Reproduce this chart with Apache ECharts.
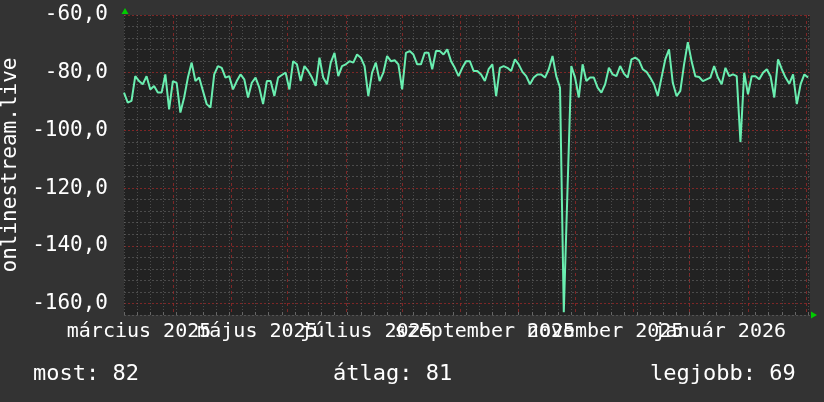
<!DOCTYPE html>
<html>
<head>
<meta charset="utf-8">
<script src="https://cdn.jsdelivr.net/npm/echarts@6/dist/echarts.min.js"></script>
<style>
  html, body { margin: 0; padding: 0; background: #333333; }
  #chart { width: 824px; height: 402px; }
</style>
</head>
<body>
<div id="chart"></div>
<script>
const DAY = 86400000;
const startTime = Date.UTC(2025, 1, 3);
const endTime = Date.UTC(2026, 1, 3);
const stepDays = 2;

// értékek 2 naponta, 2025-02-03-tól
const values = [
  -86.9, -90.4, -89.8, -81.2, -82.9, -84.0, -81.2, -85.8, -84.6, -86.9,
  -86.9, -80.6, -92.7, -82.9, -83.5, -93.8, -88.6, -81.7, -76.5, -82.9,
  -81.7, -86.3, -90.9, -92.1, -80.6, -77.7, -78.3, -81.7, -81.2, -85.8,
  -82.9, -80.6, -82.3, -88.6, -83.5, -81.7, -85.2, -90.9, -82.9, -82.9,
  -88.1, -81.7, -80.8, -80.0, -85.8, -76.0, -77.1, -82.9, -77.7, -79.4,
  -81.7, -84.6, -74.8, -81.7, -84.0, -76.5, -73.1, -81.2, -77.7, -77.1,
  -76.0, -76.5, -73.7, -74.8, -77.7, -88.1, -80.0, -76.5, -82.9, -80.0,
  -74.2, -76.0, -75.7, -77.1, -85.8, -73.1, -72.5, -73.7, -77.1, -77.1,
  -73.1, -73.1, -78.8, -72.5, -72.5, -73.7, -71.9, -76.0, -78.3, -81.2,
  -78.3, -76.0,
  -76.0, -79.4, -79.4, -80.6, -82.9, -78.8, -77.1, -88.1, -78.3, -77.7,
  -78.3, -79.4, -75.4, -77.1, -79.7, -81.2, -84.0, -81.7, -80.6, -80.6,
  -81.7, -78.8, -74.2, -81.2, -85.2, -163.0, -120.0, -77.7, -81.7, -88.6,
  -77.1, -82.9, -81.7, -81.7, -85.2, -86.9, -84.0, -78.3, -80.6, -81.2,
  -77.7, -80.3, -81.7, -75.4, -74.8, -75.7, -78.8, -79.7, -81.7, -84.0,
  -88.1, -81.7, -75.4, -71.9, -83.5, -88.1, -86.3, -77.1, -69.4, -76.0,
  -81.2, -81.5, -82.9, -82.3, -81.7, -77.7, -81.7, -84.0, -78.3, -81.2,
  -80.6, -81.2, -104.0, -80.0, -87.5, -81.2, -81.2, -82.3, -80.0, -78.8,
  -81.2, -88.6, -75.4, -78.8, -81.7, -83.8, -80.6, -90.9, -84.0, -80.6,
  -81.7
];

const monthStarts = [
  '2025-03-01', '2025-04-01', '2025-05-01', '2025-06-01', '2025-07-01', '2025-08-01',
  '2025-09-01', '2025-10-01', '2025-11-01', '2025-12-01', '2026-01-01', '2026-02-01'
];
const labelDates = ['2025-02-11', '2025-04-15', '2025-06-12', '2025-08-14', '2025-10-17', '2025-12-17'];
const labelTexts = ['március 2025', 'május 2025', 'július 2025', 'szeptember 2025', 'november 2025', 'január 2026'];
const footer = ['most: 82', 'átlag: 81', 'legjobb: 69'];

function ts(s) {
  const p = s.split('-');
  return Date.UTC(+p[0], +p[1] - 1, +p[2]);
}

const lineData = values.map((v, i) => [startTime + i * stepDays * DAY, v]);
const weekTicks = [];
for (let t = startTime; t <= endTime; t += 7 * DAY) weekTicks.push(t);
const labelTs = labelDates.map(ts);
// a feliratok átfednek, ezért két tengelyre osztva
const labelsA = labelTs.filter((t, i) => i % 2 === 0);
const labelsB = labelTs.filter((t, i) => i % 2 === 1);

const mono = 'DejaVu Sans Mono';
const minorCol = 'rgba(110,110,110,0.55)';
const majorCol = 'rgba(150,40,40,0.8)';

function monthLabel(val) {
  let best = 0;
  labelTs.forEach((t, i) => {
    if (Math.abs(t - val) < Math.abs(labelTs[best] - val)) best = i;
  });
  return labelTexts[best];
}

function labelStyle(custom) {
  return {
    customValues: custom,
    interval: 0,
    hideOverlap: false,
    showMinLabel: true,
    showMaxLabel: true,
    color: '#ffffff',
    fontFamily: mono,
    fontSize: 20,
    margin: 7,
    formatter: monthLabel
  };
}

let chart = echarts.init(document.getElementById('chart'));
chart.setOption({
  backgroundColor: '#333333',
  animation: false,
  grid: {
    left: 124, right: 14, top: 15, bottom: 87,
    containLabel: false,
    outerBoundsMode: 'none',
    show: true, backgroundColor: '#222222', borderWidth: 0
  },
  xAxis: [
    {
      type: 'value',
      min: startTime,
      max: endTime,
      position: 'bottom',
      offset: 0,
      axisLine: { show: false },
      axisTick: { show: true, customValues: weekTicks, length: 3, inside: true, lineStyle: { color: '#666' } },
      splitLine: { show: true, lineStyle: { color: minorCol, type: [1, 2], width: 1 } },
      axisLabel: labelStyle(labelsA)
    },
    {
      type: 'value',
      min: startTime,
      max: endTime,
      position: 'bottom',
      offset: 0,
      axisLine: { show: false },
      axisTick: { show: false, customValues: monthStarts.map(ts) },
      splitLine: { show: true, lineStyle: { color: majorCol, type: [3, 3], width: 1 } },
      axisLabel: labelStyle(labelsB)
    }
  ],
  yAxis: {
    type: 'value',
    min: -164,
    max: -60,
    interval: 4,
    name: 'onlinestream.live',
    nameLocation: 'middle',
    nameRotate: 90,
    nameGap: 95,
    nameTextStyle: { color: '#ffffff', fontFamily: mono, fontSize: 21 },
    axisLine: { show: false },
    axisTick: { show: false },
    axisLabel: {
      color: '#ffffff',
      fontFamily: mono,
      fontSize: 21,
      margin: 16,
      formatter: function (v) {
        return v % 20 === 0 ? v.toFixed(1).replace('.', ',') : '';
      }
    },
    splitLine: {
      show: true,
      lineStyle: { color: [minorCol, majorCol, minorCol, minorCol, minorCol], type: [2, 2], width: 1 }
    }
  },
  series: [
    {
      name: 'onlinestream.live',
      type: 'line',
      xAxisIndex: 0,
      data: lineData,
      showSymbol: false,
      lineStyle: { color: '#6aeeb0', width: 2 },
      z: 5
    }
  ],
  graphic: [
    { type: 'polygon', shape: { points: [[125, 8], [121.5, 14], [128.5, 14]] }, style: { fill: '#00cc00' } },
    { type: 'polygon', shape: { points: [[817, 315], [811, 311.5], [811, 318.5]] }, style: { fill: '#00cc00' } },
    { type: 'text', left: 33, top: 363, style: { text: footer[0], fill: '#ffffff', font: '22px "DejaVu Sans Mono"' } },
    { type: 'text', left: 333, top: 363, style: { text: footer[1], fill: '#ffffff', font: '22px "DejaVu Sans Mono"' } },
    { type: 'text', left: 650, top: 363, style: { text: footer[2], fill: '#ffffff', font: '22px "DejaVu Sans Mono"' } }
  ]
});
window.onresize = function () {
  chart.resize();
};
</script>
</body>
</html>
